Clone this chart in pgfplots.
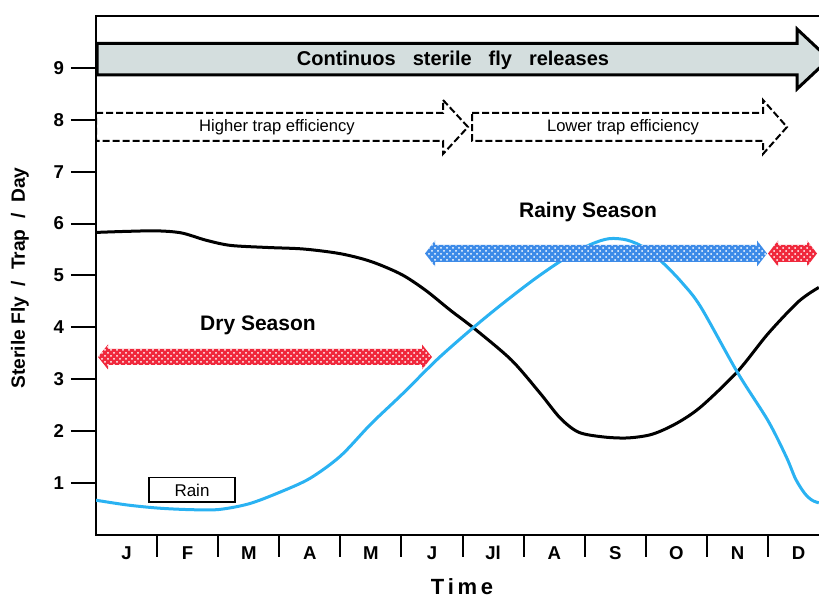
\documentclass[border=0pt]{standalone}
\usepackage{pgfplots}
\pgfplotsset{compat=1.18}
\usepackage{fontspec}
\setmainfont{Liberation Sans}
\usetikzlibrary{patterns}
\definecolor{skyblue}{HTML}{2AB2F2}
\definecolor{arrgray}{HTML}{D4DEDE}
\definecolor{dryred}{HTML}{F0283C}
\definecolor{rainblue}{HTML}{3D8BE8}
\begin{document}
\begin{tikzpicture}
\useasboundingbox (0,0) rectangle (409.5pt,299.5pt);
\begin{axis}[
  at={(48pt,32pt)}, anchor=south west, scale only axis,
  width=372.7pt, height=259.5pt,
  xmin=0, xmax=12.2, ymin=0, ymax=10,
  axis line style={line width=1pt},
  tick pos=left, tick align=outside,
  ytick={1,...,9},
  xtick={0.5,1.5,...,11.5},
  xticklabels={J,F,M,A,M,J,Jl,A,S,O,N,D},
  minor xtick={1,...,11},
  major tick length=12.5pt, minor tick length=11pt,
  every tick/.style={line width=1pt, black},
  major x tick style={draw=none},
  /pgf/number format/assume math mode=true,
  ticklabel style={font=\fontsize{9.3}{10}\selectfont\bfseries},
  xticklabel style={anchor=center, yshift=3.5pt},
]
\addplot[black, line width=1.5pt, smooth] coordinates {
(0,5.83) (0.5,5.85) (1.0,5.86) (1.4,5.82) (1.8,5.68) (2.2,5.58) (2.8,5.54) (3.4,5.51)
(4.0,5.42) (4.5,5.27) (5.0,5.02) (5.4,4.71) (5.8,4.33) (6.2,3.97) (6.8,3.37) (7.27,2.73)
(7.6,2.25) (7.9,1.98) (8.3,1.89) (8.7,1.87) (9.1,1.94) (9.5,2.15) (9.9,2.47) (10.5,3.15)
(11.0,3.88) (11.5,4.50) (11.83,4.77)
};
\addplot[skyblue, line width=1.5pt, smooth] coordinates {
(0,0.67) (0.5,0.58) (1.0,0.52) (1.5,0.49) (2.0,0.49) (2.5,0.60) (3.0,0.82) (3.5,1.09)
(4.0,1.52) (4.5,2.14) (5.0,2.70) (5.6,3.40) (6.2,4.02) (6.7,4.50) (7.2,4.95) (7.7,5.35)
(8.1,5.60) (8.4,5.71) (8.7,5.68) (9.0,5.52) (9.3,5.22) (9.6,4.85) (9.9,4.39) (10.5,3.13)
(11.0,2.20) (11.3,1.50) (11.45,1.08) (11.6,0.80) (11.72,0.67) (11.83,0.62)
};
\end{axis}
\begin{scope}[x=0.5pt, y=-0.5pt, shift={(0pt,299.5pt)}]
% big arrow
\draw[line width=1.5pt, fill=arrgray, line join=miter]
  (97,43.5) -- (797,43.5) -- (797,29) -- (829,59) -- (797,89) -- (797,75) -- (97,75) -- cycle;
\node[font=\fontsize{10}{12}\selectfont\bfseries] at (453,60) {Continuos\hspace{0.85em}sterile\hspace{0.85em}fly\hspace{0.85em}releases};
% dashed arrows
\draw[line width=1pt, dash pattern=on 3.5pt off 1.5pt]
  (96,113) -- (443,113) -- (443,100) -- (468,127) -- (443,154) -- (443,141) -- (96,141) -- cycle;
\draw[line width=1pt, dash pattern=on 3.5pt off 1.5pt]
  (472,113) -- (763,113) -- (763,100) -- (787,127) -- (763,154) -- (763,141) -- (472,141) -- cycle;
\node[font=\fontsize{8.3}{10}\selectfont] at (277,127) {Higher trap efficiency};
\node[font=\fontsize{8.3}{10}\selectfont] at (623,127) {Lower trap efficiency};
% season arrows
\path[fill=dryred, postaction={pattern=crosshatch dots, pattern color=white}]
  (98,357) -- (108,344.5) -- (108,349) -- (422,349) -- (422,344.5) -- (432,357)
  -- (422,369.5) -- (422,365) -- (108,365) -- (108,369.5) -- cycle;
\path[fill=rainblue, postaction={pattern=crosshatch dots, pattern color=white}]
  (425,253.5) -- (435,240.5) -- (435,245) -- (757,245) -- (757,240.5) -- (767,253.5)
  -- (757,266.5) -- (757,262) -- (435,262) -- (435,266.5) -- cycle;
\path[fill=dryred, postaction={pattern=crosshatch dots, pattern color=white}]
  (768,253.5) -- (778,240.5) -- (778,245) -- (807,245) -- (807,240.5) -- (817,253.5)
  -- (807,266.5) -- (807,262) -- (778,262) -- (778,266.5) -- cycle;
\node[font=\fontsize{10.5}{12}\selectfont\bfseries] at (258,325) {Dry Season};
\node[font=\fontsize{10.5}{12}\selectfont\bfseries] at (588,212) {Rainy Season};
% rain box
\draw[line width=0.8pt, fill=white] (149,477.5) rectangle (235,502);
\node[font=\fontsize{8.5}{10}\selectfont] at (192,490) {Rain};
% axis labels
\node[rotate=90, font=\fontsize{9.6}{10}\selectfont\bfseries] at (20,278) {Sterile Fly\ \ /\ \ Trap\ \ /\ \ Day};
\node[font=\fontsize{11}{12}\selectfont\bfseries] at (462,587) {T\,i\,m\,e};
\end{scope}
\end{tikzpicture}
\end{document}
